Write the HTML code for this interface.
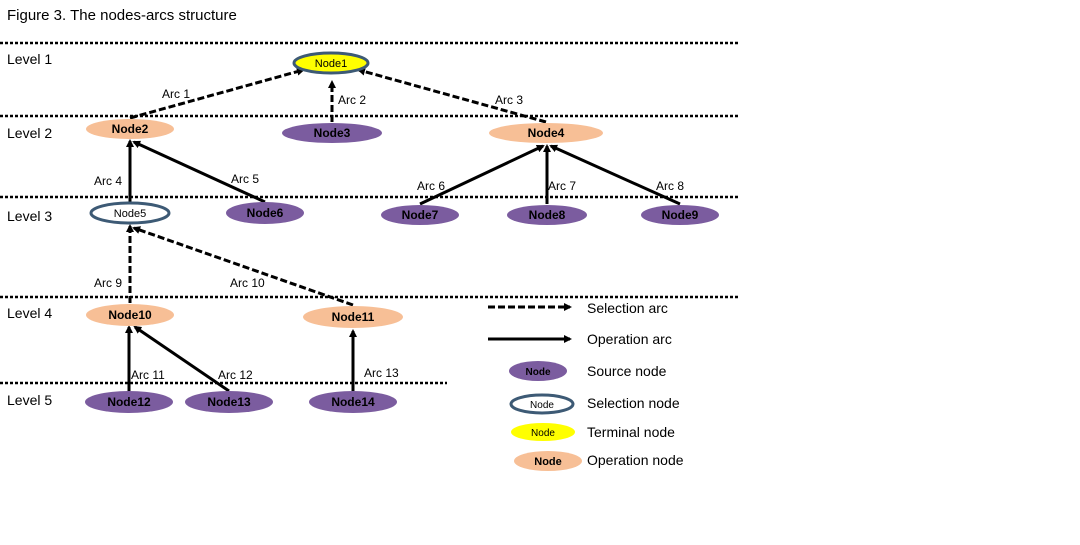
<!DOCTYPE html>
<html><head><meta charset="utf-8"><style>
body{margin:0;background:#fff;width:1080px;height:540px;overflow:hidden}
svg text{font-family:"Liberation Sans",sans-serif}
</style></head><body>
<svg width="1080" height="540" xmlns="http://www.w3.org/2000/svg">
<defs>
<marker id="a" markerWidth="8" markerHeight="8" refX="6" refY="4" orient="auto" markerUnits="userSpaceOnUse"><path d="M0,0 L8,4 L0,8 z" fill="#000"/></marker>
</defs>
<text x="7" y="20" font-size="15">Figure 3. The nodes-arcs structure</text>
<g stroke="#000" stroke-width="2.5" stroke-dasharray="3,2">
<line x1="0" y1="43" x2="738" y2="43"/>
<line x1="0" y1="116" x2="740" y2="116"/>
<line x1="0" y1="197" x2="740" y2="197"/>
<line x1="0" y1="297" x2="740" y2="297"/>
<line x1="0" y1="383" x2="447" y2="383"/>
</g>
<g font-size="14">
<text x="7" y="64">Level 1</text>
<text x="7" y="138">Level 2</text>
<text x="7" y="221">Level 3</text>
<text x="7" y="318">Level 4</text>
<text x="7" y="405">Level 5</text>
</g>
<g stroke="#000" stroke-width="3" stroke-dasharray="7,3" marker-end="url(#a)">
<line x1="130" y1="118" x2="303" y2="70"/>
<line x1="332" y1="122" x2="332" y2="82"/>
<line x1="546" y1="122" x2="359" y2="70"/>
<line x1="130" y1="303" x2="130" y2="226"/>
<line x1="353" y1="305" x2="134" y2="228"/>
<line x1="488" y1="307" x2="570" y2="307"/>
</g>
<g stroke="#000" stroke-width="3" marker-end="url(#a)">
<line x1="130" y1="202" x2="130" y2="141"/>
<line x1="265" y1="202" x2="134" y2="142"/>
<line x1="420" y1="204" x2="543" y2="146"/>
<line x1="547" y1="204" x2="547" y2="146"/>
<line x1="680" y1="204" x2="551" y2="146"/>
<line x1="129" y1="391" x2="129" y2="327"/>
<line x1="229" y1="391" x2="135" y2="327"/>
<line x1="353" y1="391" x2="353" y2="331"/>
<line x1="488" y1="339" x2="570" y2="339"/>
</g>
<g font-size="12">
<text x="162" y="98">Arc 1</text>
<text x="338" y="104">Arc 2</text>
<text x="495" y="104">Arc 3</text>
<text x="94" y="185">Arc 4</text>
<text x="231" y="183">Arc 5</text>
<text x="417" y="190">Arc 6</text>
<text x="548" y="190">Arc 7</text>
<text x="656" y="190">Arc 8</text>
<text x="94" y="287">Arc 9</text>
<text x="230" y="287">Arc 10</text>
<text x="131" y="379">Arc 11</text>
<text x="218" y="379">Arc 12</text>
<text x="364" y="377">Arc 13</text>
</g>
<!-- nodes -->
<ellipse cx="331" cy="63" rx="37" ry="10" fill="#ffff00" stroke="#3d5a75" stroke-width="3"/>
<text x="331" y="67" font-size="11" text-anchor="middle">Node1</text>
<g font-size="12" font-weight="bold" text-anchor="middle">
<ellipse cx="130" cy="129" rx="44" ry="10" fill="#f7bf96"/><text x="130" y="133">Node2</text>
<ellipse cx="332" cy="133" rx="50" ry="10" fill="#7b5c9f"/><text x="332" y="137">Node3</text>
<ellipse cx="546" cy="133" rx="57" ry="10" fill="#f7bf96"/><text x="546" y="137">Node4</text>
<ellipse cx="265" cy="213" rx="39" ry="11" fill="#7b5c9f"/><text x="265" y="217">Node6</text>
<ellipse cx="420" cy="215" rx="39" ry="10" fill="#7b5c9f"/><text x="420" y="219">Node7</text>
<ellipse cx="547" cy="215" rx="40" ry="10" fill="#7b5c9f"/><text x="547" y="219">Node8</text>
<ellipse cx="680" cy="215" rx="39" ry="10" fill="#7b5c9f"/><text x="680" y="219">Node9</text>
<ellipse cx="130" cy="315" rx="44" ry="11" fill="#f7bf96"/><text x="130" y="319">Node10</text>
<ellipse cx="353" cy="317" rx="50" ry="11" fill="#f7bf96"/><text x="353" y="321">Node11</text>
<ellipse cx="129" cy="402" rx="44" ry="11" fill="#7b5c9f"/><text x="129" y="406">Node12</text>
<ellipse cx="229" cy="402" rx="44" ry="11" fill="#7b5c9f"/><text x="229" y="406">Node13</text>
<ellipse cx="353" cy="402" rx="44" ry="11" fill="#7b5c9f"/><text x="353" y="406">Node14</text>
</g>
<ellipse cx="130" cy="213" rx="39" ry="10" fill="#fff" stroke="#3d5a75" stroke-width="3"/>
<text x="130" y="217" font-size="11" text-anchor="middle">Node5</text>
<!-- legend -->
<ellipse cx="538" cy="371" rx="29" ry="10" fill="#7b5c9f"/>
<text x="538" y="375" font-size="10" font-weight="bold" text-anchor="middle">Node</text>
<ellipse cx="542" cy="404" rx="31" ry="9" fill="#fff" stroke="#3d5a75" stroke-width="3"/>
<text x="542" y="408" font-size="10" text-anchor="middle">Node</text>
<ellipse cx="543" cy="432" rx="32" ry="9" fill="#ffff00"/>
<text x="543" y="436" font-size="10" text-anchor="middle">Node</text>
<ellipse cx="548" cy="461" rx="34" ry="10" fill="#f7bf96"/>
<text x="548" y="465" font-size="11" font-weight="bold" text-anchor="middle">Node</text>
<g font-size="14">
<text x="587" y="313">Selection arc</text>
<text x="587" y="344">Operation arc</text>
<text x="587" y="376">Source node</text>
<text x="587" y="408">Selection node</text>
<text x="587" y="437">Terminal node</text>
<text x="587" y="465">Operation node</text>
</g>
</svg>
</body></html>
